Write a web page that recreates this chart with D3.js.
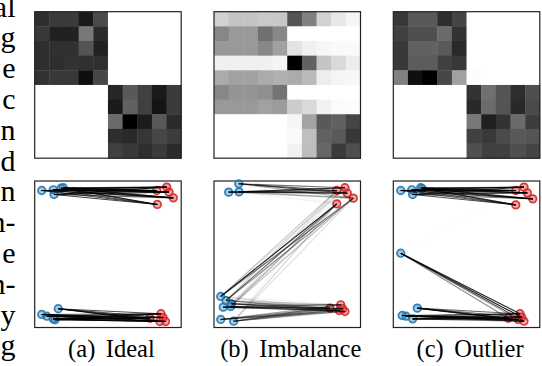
<!DOCTYPE html>
<html>
<head>
<meta charset="utf-8">
<script src="https://cdn.jsdelivr.net/npm/d3@7"></script>
<style>
  body { margin: 0; background: #fff; }
  text { font-family: "Liberation Serif", "Times New Roman", serif; }
</style>
</head>
<body>
<div id="chart"></div>
<script>
// Chart data ------------------------------------------------------------

// clipped words from the neighbouring text column
var sideText = ["al", "g", "e", "c", "n", "d", "n", "n-", "e", "n-", "y", "g"];

var captionLabels = ["(a)", "(b)", "(c)"];
var captionNames = ["Ideal", "Imbalance", "Outlier"];

// coupling matrices (0 = white, 1 = black), rows = blue points, cols = red points
var idealMatrix = [
  [0.82, 0.77, 0.77, 0.90, 0.71, 0, 0, 0, 0, 0],
  [0.78, 0.87, 0.87, 0.53, 0.83, 0, 0, 0, 0, 0],
  [0.82, 0.81, 0.81, 0.67, 0.87, 0, 0, 0, 0, 0],
  [0.82, 0.82, 0.80, 0.81, 0.81, 0, 0, 0, 0, 0],
  [0.80, 0.78, 0.78, 0.94, 0.72, 0, 0, 0, 0, 0],
  [0, 0, 0, 0, 0, 0.85, 0.65, 0.75, 0.90, 0.77],
  [0, 0, 0, 0, 0, 0.90, 0.62, 0.75, 0.92, 0.77],
  [0, 0, 0, 0, 0, 0.58, 1.00, 0.89, 0.65, 0.83],
  [0, 0, 0, 0, 0, 0.82, 0.84, 0.79, 0.72, 0.76],
  [0, 0, 0, 0, 0, 0.75, 0.78, 0.82, 0.77, 0.83]
];

var imbalanceMatrix = [
  [0.18, 0.23, 0.23, 0.21, 0.22, 0.67, 0.50, 0.18, 0.09, 0.04],
  [0.47, 0.40, 0.40, 0.56, 0.47, 0, 0, 0, 0, 0],
  [0.40, 0.40, 0.40, 0.47, 0.37, 0.11, 0.06, 0.03, 0.02, 0.02],
  [0.06, 0.06, 0.06, 0.06, 0.04, 1.00, 0.62, 0.23, 0.15, 0.07],
  [0.33, 0.37, 0.37, 0.33, 0.31, 0.33, 0.27, 0.07, 0.04, 0.03],
  [0.47, 0.42, 0.42, 0.44, 0.55, 0, 0, 0, 0, 0],
  [0.40, 0.40, 0.40, 0.37, 0.39, 0.20, 0.15, 0.05, 0.015, 0.01],
  [0, 0, 0, 0, 0, 0.035, 0.36, 0.65, 0.62, 0.73],
  [0, 0, 0, 0, 0, 0.02, 0.25, 0.62, 0.65, 0.78],
  [0, 0, 0, 0, 0, 0.05, 0.26, 0.60, 0.77, 0.69]
];

var outlierMatrix = [
  [0.78, 0.65, 0.65, 0.82, 0.73, 0, 0, 0, 0, 0],
  [0.75, 0.69, 0.69, 0.58, 0.80, 0, 0, 0, 0, 0],
  [0.78, 0.62, 0.62, 0.65, 0.84, 0, 0, 0, 0, 0],
  [0.78, 0.64, 0.64, 0.75, 0.78, 0, 0, 0, 0, 0],
  [0.50, 0.94, 1.00, 0.72, 0.37, 0.01, 0, 0, 0, 0],
  [0, 0, 0, 0, 0, 0.80, 0.56, 0.67, 0.82, 0.69],
  [0, 0, 0, 0, 0, 0.84, 0.58, 0.67, 0.84, 0.71],
  [0, 0, 0, 0, 0, 0.53, 0.88, 0.80, 0.58, 0.76],
  [0, 0, 0, 0, 0, 0.75, 0.78, 0.71, 0.65, 0.67],
  [0, 0, 0, 0, 0, 0.69, 0.75, 0.75, 0.69, 0.73]
];

// point positions [x, y] in unit coordinates
var idealBlue = [
  [0.048, 0.089], [0.082, 0.077], [0.127, 0.059], [0.139, 0.053], [0.161, 0.128],
  [0.048, 0.935], [0.127, 0.940], [0.132, 0.908], [0.180, 0.951], [0.195, 0.954]
];
var idealRed = [
  [0.787, 0.063], [0.862, 0.094], [0.876, 0.068], [0.893, 0.041], [0.855, 0.041],
  [0.833, 0.935], [0.901, 0.958], [0.917, 0.924], [0.946, 0.885], [0.837, 0.840]
];

var imbalanceBlue = [
  [0.082, 0.184], [0.063, 0.139], [0.118, 0.162], [0.046, 0.212], [0.114, 0.143],
  [0.046, 0.055], [0.134, 0.043],
  [0.169, 0.981], [0.100, 0.924], [0.171, 0.926]
];
var imbalanceRed = [
  [0.792, 0.132], [0.865, 0.155], [0.878, 0.128], [0.894, 0.109], [0.855, 0.116],
  [0.838, 0.844], [0.951, 0.883], [0.838, 0.935], [0.894, 0.954], [0.910, 0.917]
];

var outlierBlue = [
  [0.061, 0.082], [0.087, 0.077], [0.132, 0.059], [0.164, 0.132],
  [0.051, 0.507],
  [0.051, 0.935], [0.126, 0.940], [0.132, 0.908], [0.187, 0.954], [0.198, 0.947]
];
var outlierRed = [
  [0.785, 0.063], [0.865, 0.094], [0.877, 0.070], [0.892, 0.043], [0.853, 0.055],
  [0.836, 0.935], [0.892, 0.958], [0.915, 0.919], [0.952, 0.878], [0.836, 0.837]
];

// Layout ----------------------------------------------------------------
var svgWidth = 542;
var svgHeight = 366;

var panelLeft = [34.7, 214, 393.3];
var panelSize = 146.5;
var heatTop = 11.7;
var scatterTop = 181;

var panels = [
  { matrix: idealMatrix, blue: idealBlue, red: idealRed },
  { matrix: imbalanceMatrix, blue: imbalanceBlue, red: imbalanceRed },
  { matrix: outlierMatrix, blue: outlierBlue, red: outlierRed }
];

var svg = d3.select("#chart")
  .append("svg")
  .attr("width", svgWidth)
  .attr("height", svgHeight);

var grey = d3.scaleLinear().domain([0, 1]).range(["#ffffff", "#000000"]);

// side text column (clipped on the left, as in the page it was cut from)
svg.append("g")
  .selectAll("text")
  .data(sideText)
  .enter()
  .append("text")
  .attr("x", 15.5)
  .attr("y", (d, i) => 16.5 + i * 30.8)
  .attr("text-anchor", "end")
  .attr("font-size", "30px")
  .attr("fill", "#000")
  .text(d => d);

panels.forEach(function(p, k) {
  var x0 = panelLeft[k];

  // heatmap
  var rowScale = d3.scaleBand().domain(d3.range(10)).range([heatTop, heatTop + panelSize]);
  var colScale = d3.scaleBand().domain(d3.range(10)).range([x0, x0 + panelSize]);

  var cells = [];
  p.matrix.forEach(function(row, i) {
    row.forEach(function(v, j) { cells.push({ i: i, j: j, v: v }); });
  });

  var heat = svg.append("g");
  heat.selectAll("rect")
    .data(cells)
    .enter()
    .append("rect")
    .attr("x", d => colScale(d.j))
    .attr("y", d => rowScale(d.i))
    .attr("width", colScale.bandwidth() + 0.4)
    .attr("height", rowScale.bandwidth() + 0.4)
    .attr("fill", d => grey(d.v));

  heat.append("rect")
    .attr("x", x0)
    .attr("y", heatTop)
    .attr("width", panelSize)
    .attr("height", panelSize)
    .attr("fill", "none")
    .attr("stroke", "#222")
    .attr("stroke-width", 1.2);

  // scatter with coupling lines
  var xScale = d3.scaleLinear().domain([0, 1]).range([x0, x0 + panelSize]);
  var yScale = d3.scaleLinear().domain([0, 1]).range([scatterTop + panelSize, scatterTop]);

  var sc = svg.append("g");

  sc.append("rect")
    .attr("x", x0)
    .attr("y", scatterTop)
    .attr("width", panelSize)
    .attr("height", panelSize)
    .attr("fill", "#fff")
    .attr("stroke", "#222")
    .attr("stroke-width", 1.2);

  var dots = sc.append("g");
  dots.selectAll("circle.blue")
    .data(p.blue)
    .enter()
    .append("circle")
    .attr("class", "blue")
    .attr("cx", d => xScale(d[0]))
    .attr("cy", d => yScale(d[1]))
    .attr("r", 3.8)
    .attr("fill", "rgba(31,119,180,0.4)")
    .attr("stroke", "rgba(31,119,180,0.9)")
    .attr("stroke-width", 1.7);

  dots.selectAll("circle.red")
    .data(p.red)
    .enter()
    .append("circle")
    .attr("class", "red")
    .attr("cx", d => xScale(d[0]))
    .attr("cy", d => yScale(d[1]))
    .attr("r", 3.8)
    .attr("fill", "rgba(214,39,40,0.4)")
    .attr("stroke", "rgba(214,39,40,0.9)")
    .attr("stroke-width", 1.7);

  var links = cells.filter(d => d.v > 0);
  sc.append("g")
    .selectAll("line")
    .data(links)
    .enter()
    .append("line")
    .attr("x1", d => xScale(p.blue[d.i][0]))
    .attr("y1", d => yScale(p.blue[d.i][1]))
    .attr("x2", d => xScale(p.red[d.j][0]))
    .attr("y2", d => yScale(p.red[d.j][1]))
    .attr("stroke", "#000")
    .attr("stroke-width", 1.1)
    .attr("stroke-opacity", d => d.v * 0.9);

  // caption
  var cap = svg.append("text")
    .attr("x", x0 + panelSize / 2 + 3.5)
    .attr("y", 357.4)
    .attr("text-anchor", "middle")
    .attr("font-size", "24.5px")
    .attr("fill", "#000");
  cap.append("tspan").text(captionLabels[k]);
  cap.append("tspan").attr("dx", 10.5).text(captionNames[k]);
});
</script>
</body>
</html>
